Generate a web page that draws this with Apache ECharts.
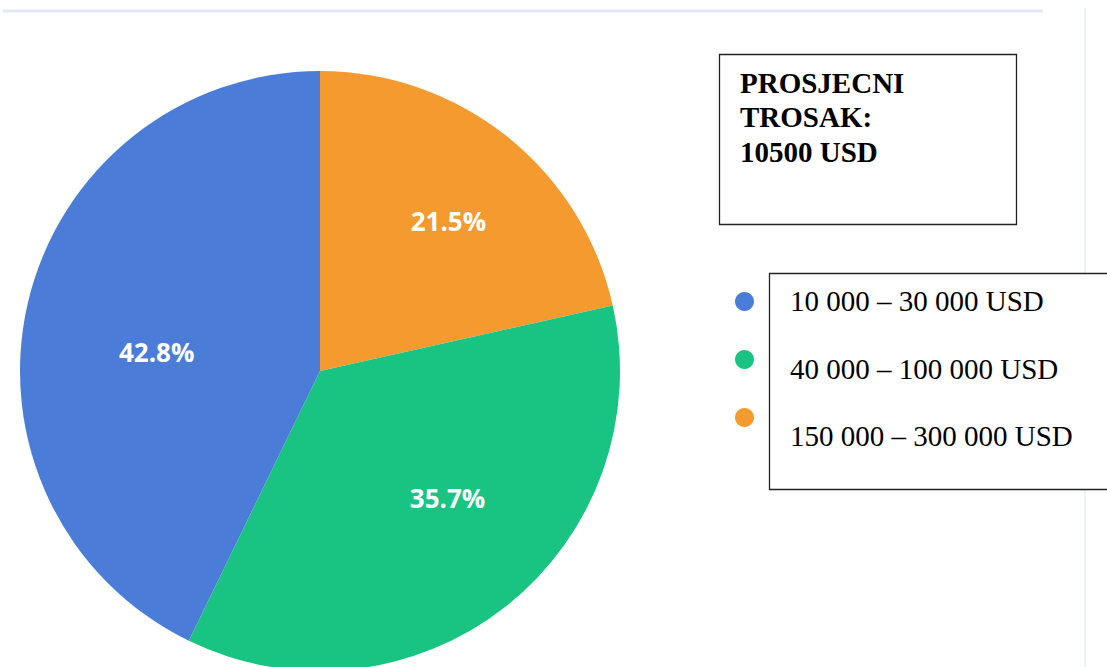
<!DOCTYPE html>
<html>
<head>
<meta charset="utf-8">
<script src="https://cdn.jsdelivr.net/npm/echarts@6/dist/echarts.min.js"></script>
<style>
  html, body { margin: 0; padding: 0; background: #ffffff; }
  #chart { width: 1107px; height: 667px; }
</style>
</head>
<body>
<div id="chart"></div>
<script>
// Cost ranges and their shares (%)
const categories = ['10 000 – 30 000 USD', '40 000 – 100 000 USD', '150 000 – 300 000 USD'];
const shares = [42.8, 35.7, 21.5];
const colors = ['#4b7cd8', '#19c482', '#f59a2e'];
const summaryLines = ['PROSJECNI', 'TROSAK:', '10500 USD'];

// Pie is drawn clockwise from 12 o'clock, starting with the highest range
const drawOrder = [2, 1, 0];
// small nudges for the percentage labels, by category
const labelNudge = [[15, 22], [14, -17], [14, -7]];

const pieData = drawOrder.map(i => ({
  name: categories[i],
  value: shares[i],
  itemStyle: { color: colors[i] }
}));

const chart = echarts.init(document.getElementById('chart'), null, { renderer: 'svg' });

const legendTextY = [302, 370, 437];
const legendTexts = categories.map((c, i) => ({
  type: 'text',
  left: 790,
  top: legendTextY[i] - 16,
  style: { text: c, fill: '#000', font: '29px "Liberation Serif", "Times New Roman", serif' }
}));

const summaryTexts = summaryLines.map((t, i) => ({
  type: 'text',
  left: 740,
  top: 68 + i * 34.5,
  style: { text: t, fill: '#000', font: 'bold 29px "Liberation Serif", "Times New Roman", serif' }
}));

chart.setOption({
  animation: false,
  backgroundColor: '#ffffff',
  legend: {
    orient: 'vertical',
    left: 730,
    top: 287,
    icon: 'circle',
    itemWidth: 19,
    itemHeight: 19,
    itemGap: 39,
    data: categories,
    formatter: () => ' ',
    textStyle: { fontSize: 10 },
    selectedMode: false
  },
  graphic: [
    // header rule and right-hand divider
    { type: 'line', shape: { x1: 3, y1: 11, x2: 1043, y2: 11 }, style: { stroke: '#e2e9f5', lineWidth: 3 } },
    { type: 'line', shape: { x1: 1085, y1: 8, x2: 1085, y2: 667 }, style: { stroke: '#eef3f9', lineWidth: 2 } },
    // summary box
    { type: 'rect', shape: { x: 719.5, y: 54.5, width: 297, height: 170 }, style: { fill: '#fff', stroke: '#222', lineWidth: 1.3 } },
    ...summaryTexts,
    // legend label box
    { type: 'rect', shape: { x: 769.5, y: 273.5, width: 360, height: 216 }, style: { fill: '#fff', stroke: '#222', lineWidth: 1.3 } },
    ...legendTexts
  ],
  series: [
    {
      type: 'pie',
      center: [320, 371],
      radius: [0, 300],
      startAngle: 90,
      clockwise: true,
      silent: true,
      label: { show: false },
      labelLine: { show: false },
      data: pieData
    },
    {
      // percentage labels, placed part-way out from the centre
      type: 'pie',
      center: [320, 371],
      radius: [0, 360],
      startAngle: 90,
      clockwise: true,
      silent: true,
      itemStyle: { color: 'rgba(0,0,0,0)' },
      label: {
        show: true,
        position: 'inside',
        formatter: p => p.value.toFixed(1) + '%',
        color: '#ffffff',
        fontFamily: '"Open Sans", Lato, sans-serif',
        fontWeight: 'bold',
        fontSize: 26
      },
      labelLine: { show: false },
      data: drawOrder.map(i => ({
        name: categories[i],
        value: shares[i],
        itemStyle: { color: 'rgba(0,0,0,0)' },
        label: { offset: labelNudge[i] }
      }))
    }
  ]
});
</script>
</body>
</html>
